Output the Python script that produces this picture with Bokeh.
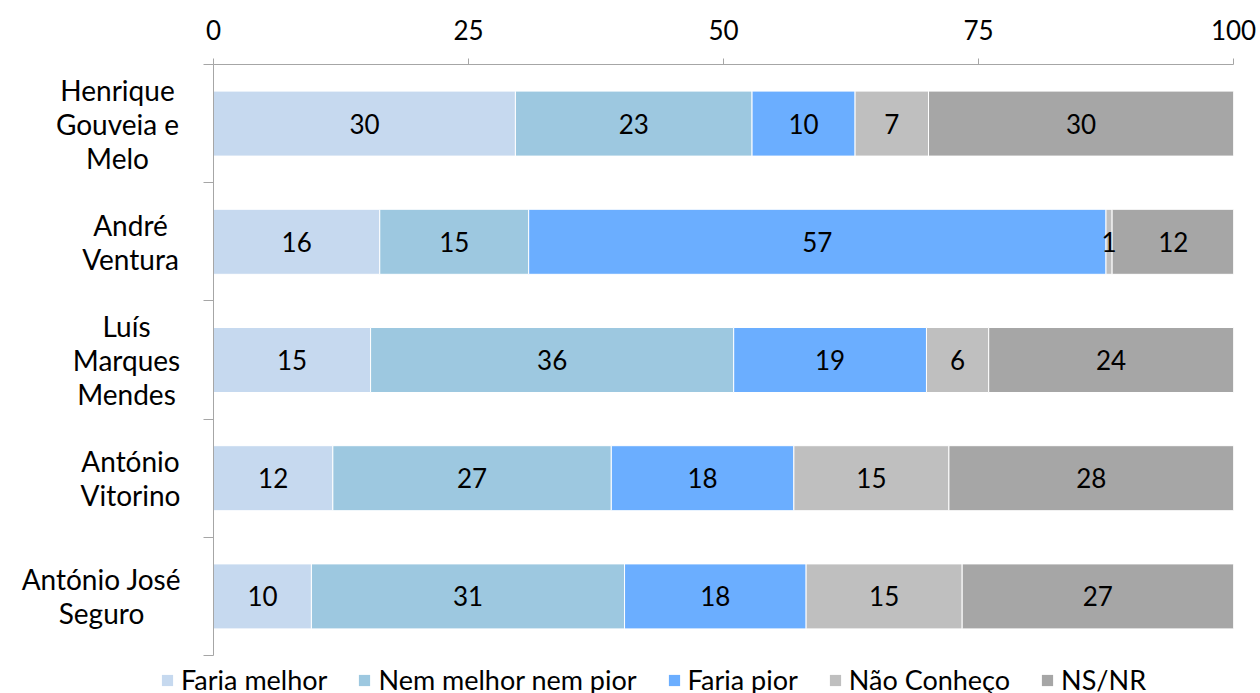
from bokeh.plotting import figure
from bokeh.layouts import row, column
from bokeh.models import Range1d, FixedTicker, Legend, LegendItem, ColumnDataSource
from bokeh.core.properties import value
from bokeh.embed import file_html
from bokeh.resources import INLINE

candidates = ["Henrique\nGouveia e\nMelo", "André\nVentura", "Luís\nMarques\nMendes",
              "António\nVitorino", "António José\nSeguro"]
series = ["Faria melhor", "Nem melhor nem pior", "Faria pior", "Não Conheço", "NS/NR"]
faria_melhor = [29.6, 16.3, 15.4, 11.7, 9.6]
nem_melhor_nem_pior = [23.2, 14.6, 35.6, 27.3, 30.7]
faria_pior = [10.1, 56.6, 18.9, 17.9, 17.8]
nao_conheco = [7.2, 0.6, 6.1, 15.2, 15.3]
ns_nr = [29.9, 12.0, 24.0, 27.9, 26.6]
x_ticks = [0, 25, 50, 75, 100]

# styling / layout
colors = ["#C6D9EF", "#9DC8E0", "#6BAEFF", "#BFBFBF", "#A6A6A6"]
label_centers = [117, 130, 126, 130, 101]   # px centre of each category label block
FONT = "Lato"
FS = "26px"
CAT_FS = "28px"
LEG_FS = "27px"
AXIS_COL = "#A6A6A6"

values = [faria_melhor, nem_melhor_nem_pior, faria_pior, nao_conheco, ns_nr]
ypos = [i + 0.5 for i in range(len(candidates))]
yr = Range1d(len(candidates), 0)

LABEL_W = 183
TOP = 64
MAIN_H = 656

# ---- main chart ----
p = figure(width=1075, height=MAIN_H, output_backend="svg", toolbar_location=None,
           x_range=Range1d(0, 100), y_range=yr, x_axis_location="above",
           min_border_left=30, min_border_right=25, min_border_top=TOP, min_border_bottom=1)
p.outline_line_color = None
p.xgrid.visible = False
p.ygrid.visible = False

left = [0.0] * len(candidates)
sources = []
for name, vals, col in zip(series, values, colors):
    right = [l + v for l, v in zip(left, vals)]
    src = ColumnDataSource(dict(y=ypos, left=left, right=right,
                                mid=[(l + r) / 2 for l, r in zip(left, right)],
                                lab=[str(int(round(v))) for v in vals]))
    p.hbar(y="y", left="left", right="right", height=0.55, source=src,
           fill_color=col, line_color="white", line_width=1)
    sources.append(src)
    left = right
for src in sources:
    p.text(x="mid", y="y", text="lab", source=src, text_font=value(FONT),
           text_font_size=FS, text_align="center", text_baseline="middle",
           text_color="black")

ax = p.xaxis[0]
ax.ticker = FixedTicker(ticks=x_ticks, minor_ticks=[])
ax.axis_line_color = AXIS_COL
ax.major_tick_line_color = AXIS_COL
ax.major_tick_out = 6
ax.major_tick_in = 0
ax.minor_tick_line_color = None
ax.major_label_text_font = FONT
ax.major_label_text_font_size = FS
ax.major_label_text_color = "black"
ax.major_label_standoff = 19

ay = p.yaxis[0]
ay.ticker = FixedTicker(ticks=ypos, minor_ticks=list(range(len(candidates) + 1)))
ay.axis_line_color = AXIS_COL
ay.major_tick_line_color = None
ay.major_tick_out = 0
ay.major_tick_in = 0
ay.minor_tick_line_color = AXIS_COL
ay.minor_tick_out = 10
ay.minor_tick_in = 0
ay.major_label_text_font_size = "0px"
ay.major_label_standoff = 0
ay.major_label_overrides = {y: "" for y in ypos}

# ---- category labels (left) ----
lab_fig = figure(width=LABEL_W, height=MAIN_H, output_backend="svg", toolbar_location=None,
                 x_range=Range1d(0, LABEL_W), y_range=yr, x_axis_type=None, y_axis_type=None,
                 min_border_left=0, min_border_right=0, min_border_top=TOP, min_border_bottom=1)
lab_fig.outline_line_color = None
lab_fig.xgrid.visible = False
lab_fig.ygrid.visible = False
lab_fig.text(x=label_centers, y=ypos, text=candidates, text_font=value(FONT),
             text_font_size=CAT_FS, text_align="center", text_baseline="middle",
             text_line_height=1.0, text_color="black")

# ---- legend strip (bottom) ----
leg_fig = figure(width=LABEL_W + 1075, height=693 - MAIN_H, output_backend="svg",
                 toolbar_location=None, x_range=Range1d(0, 1), y_range=Range1d(0, 1),
                 x_axis_type=None, y_axis_type=None,
                 min_border_left=0, min_border_right=0, min_border_top=0, min_border_bottom=0)
leg_fig.outline_line_color = None
leg_fig.xgrid.visible = False
leg_fig.ygrid.visible = False
items = []
for name, col in zip(series, colors):
    # off-range dummy bar: only its legend swatch is visible
    r = leg_fig.hbar(y=[10], left=[10], right=[11], height=0.5, fill_color=col, line_color=None)
    items.append(LegendItem(label=name, renderers=[r]))
legend = Legend(items=items, location=(160, -3), orientation="horizontal",
                glyph_width=14, glyph_height=14, label_standoff=7, spacing=30,
                padding=0, margin=0, border_line_color=None, background_fill_alpha=0,
                label_text_font=FONT, label_text_font_size=LEG_FS, label_text_color="black")
leg_fig.add_layout(legend, "center")

layout = column(row(lab_fig, p, spacing=0), leg_fig, spacing=0)
open("out.html", "w").write(file_html(layout, INLINE))
